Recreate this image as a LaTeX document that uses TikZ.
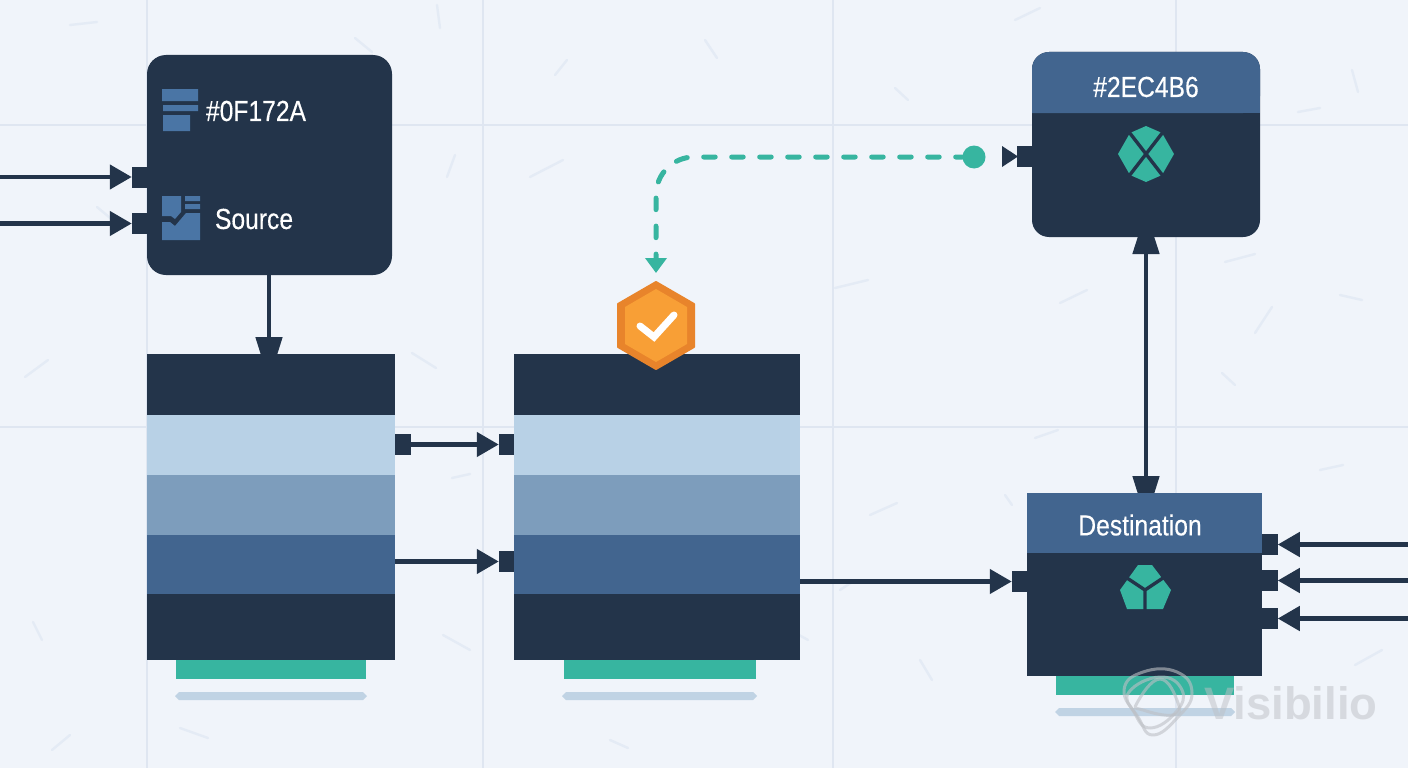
\documentclass[tikz,border=0pt]{standalone}
\usepackage{fontspec}
\setmainfont{Liberation Sans}
\newfontfamily\labelfont[FakeStretch=0.85,FakeBold=0.25]{Liberation Sans}
\newfontfamily\markfont{Liberation Sans Bold}
\usetikzlibrary{arrows.meta,calc}
\definecolor{bgc}{HTML}{F0F4FA}
\definecolor{gridc}{HTML}{DFE6F1}
\definecolor{speck}{HTML}{E4EBF5}
\definecolor{ink}{HTML}{23344A}
\definecolor{steel}{HTML}{42658F}
\definecolor{midb}{HTML}{7D9DBC}
\definecolor{pale}{HTML}{B8D1E6}
\definecolor{teal}{HTML}{37B5A0}
\definecolor{barc}{HTML}{C0D3E4}
\definecolor{icon}{HTML}{4A75A5}
\definecolor{orangeo}{HTML}{E8842B}
\definecolor{orangei}{HTML}{F89F36}
\definecolor{wm}{HTML}{BDC0C5}
\tikzset{
  x=1pt,y=-1pt,
  every node/.style={inner sep=0pt,outer sep=0pt},
  stripe/.style={rectangle,fill=#1},
  portbox/.style={rectangle,fill=ink,minimum width=15.5pt,minimum height=21pt},
  wire/.style={draw=ink,line width=4.6pt,-{Triangle[length=22pt,width=24pt]}},
  wireshort/.style={draw=ink,line width=4.8pt,shorten >=-27pt,-{Triangle[length=44pt,width=26pt]}},
  wireboth/.style={draw=ink,line width=4.8pt,shorten >=-27pt,shorten <=-26pt,{Triangle[length=43pt,width=26pt]}-{Triangle[length=44pt,width=26pt]}},
  tealwire/.style={draw=teal,line width=5pt,dash pattern=on 11.5pt off 16.5pt,dash phase=4.7pt,line cap=round,rounded corners=38pt,-{Triangle[length=15pt,width=21pt]}},
  gridline/.style={draw=gridc,line width=2pt},
  fleck/.style={draw=speck,line width=2.4pt,line cap=round},
  tagtext/.style={text=white,font=\labelfont\fontsize{29}{30}\selectfont},
  wmline/.style={draw=wm,line width=3pt,opacity=.6,line join=round}
}
\begin{document}
\begin{tikzpicture}
\useasboundingbox (0,0) rectangle (1408,768);
\fill[bgc] (0,0) rectangle (1408,768);
% grid
\foreach \g in {147,483,833,1176} \draw[gridline] (\g,0) -- (\g,768);
\foreach \g in {125,427} \draw[gridline] (0,\g) -- (1408,\g);
% flecks
\foreach \a/\b/\c/\d in {530/177/563/160,355/38/372/52,412/353/436/368,25/377/48/360,447/177/455/155,555/75/567/60,705/40/717/58,835/288/868/280,1060/303/1087/290,1255/333/1272/307,1225/262/1255/254,1015/20/1040/8,1340/295/1362/300,1352/70/1358/92,1192/115/1205/100,895/88/908/100,870/515/897/503,1035/438/1058/430,1320/470/1343/465,1355/665/1382/650,920/660/932/680,443/635/470/650,33/622/42/640,52/750/70/735,180/728/208/738,610/740/628/748,790/630/808/640,840/590/855/580,437/5/440/28,70/25/97/22,1298/112/1320/108,97/207/115/222,1222/373/1235/385,452/478/470/474,1005/495/1012/505}
  \draw[fleck] (\a,\b) -- (\c,\d);

% source box
\node[rectangle,fill=ink,rounded corners=19pt,minimum width=245pt,minimum height=220pt] (src) at (269.5,165) {};
\fill[icon] (162,89) rectangle (198,101) (163,105) rectangle (198,111) (163,115) rectangle (190,131);
\node[tagtext,anchor=west] (srctag) at (206,111) {\#0F172A};
\fill[icon] (162,196) -- (181,196) -- (181,212) -- (175,219) -- (171,216) -- (162,216) -- cycle;
\fill[icon] (162,222) -- (170,222) -- (175,226) -- (186,213) -- (200,213) -- (200,240) -- (162,240) -- cycle;
\fill[icon] (185,196) rectangle (200,201) (185,204) rectangle (200,209);
\node[tagtext,anchor=west] (srcname) at (215,219) {Source};
\node[portbox] (sp1) at (139.5,177) {};
\node[portbox] (sp2) at (139.5,223.5) {};
\coordinate (in1) at (0,177);
\coordinate (in2) at (0,223.5);

% left stack
\node[stripe=ink,minimum width=248pt,minimum height=61pt] (a1) at (271,384.5) {};
\node[stripe=pale,minimum width=248pt,minimum height=60pt] (a2) at (271,445) {};
\node[stripe=midb,minimum width=248pt,minimum height=60pt] (a3) at (271,505) {};
\node[stripe=steel,minimum width=248pt,minimum height=59pt] (a4) at (271,564.5) {};
\node[stripe=ink,minimum width=248pt,minimum height=66pt] (a5) at (271,627) {};
\node[stripe=teal,minimum width=190pt,minimum height=19pt] (a6) at (271,669.5) {};
\fill[barc] (175,696) -- (179,692) -- (363,692) -- (367,696) -- (363,700) -- (179,700) -- cycle;

% middle stack
\node[stripe=ink,minimum width=286pt,minimum height=61pt] (b1) at (657,384.5) {};
\node[stripe=pale,minimum width=286pt,minimum height=60pt] (b2) at (657,445) {};
\node[stripe=midb,minimum width=286pt,minimum height=60pt] (b3) at (657,505) {};
\node[stripe=steel,minimum width=286pt,minimum height=59pt] (b4) at (657,564.5) {};
\node[stripe=ink,minimum width=286pt,minimum height=66pt] (b5) at (657,627) {};
\node[stripe=teal,minimum width=192pt,minimum height=19pt] (b6) at (660,669.5) {};
\fill[barc] (562,696) -- (566,692) -- (753,692) -- (757,696) -- (753,700) -- (566,700) -- cycle;

% ports between stacks
\node[portbox] (ap1) at (403,444.5) {};
\node[portbox] (bp1) at (506.5,444.5) {};
\node[portbox] (bp2) at (506.5,561.5) {};

% top-right box
\node[rectangle,fill=ink,rounded corners=17pt,minimum width=228pt,minimum height=185pt] (tr) at (1146,144.5) {};
\node[portbox] (tp) at (1024.5,156.5) {};
\fill[ink] (1002,146) -- (1018,156.5) -- (1002,167) -- cycle;
\node[circle,fill=teal,minimum size=23pt] (dot) at (974,157) {};

% destination box, with the two-headed connector under its header
\node[rectangle,fill=ink,minimum width=235pt,minimum height=183pt] (dst) at (1144.5,584.5) {};
\path[wireboth] (tr.south) -- (tr.south |- dst.north);
\fill[steel,rounded corners=17pt] (1032,113) -- (1032,52) -- (1260,52) -- (1260,113) [sharp corners] -- cycle;
\fill[steel] (1032,90) rectangle (1260,113);
\node[tagtext] (trtag) at (1146,87) {\#2EC4B6};
\fill[teal] (1146,126) -- (1162,133) -- (1174,154) -- (1162,175) -- (1146,182) -- (1130,175) -- (1118,154) -- (1130,133) -- cycle;
\draw[ink,line width=3.4pt] (1129,132) -- (1163,176) (1163,132) -- (1129,176);
\node[stripe=steel,minimum width=235pt,minimum height=60pt] (dsth) at (1144.5,523) {};
\node[tagtext] (dstname) at (1140,525) {Destination};
\fill[teal] (1138,565) -- (1152,565) -- (1171,590) -- (1163,609) -- (1127,609) -- (1120,590) -- cycle;
\draw[ink,line width=3.4pt] (1145,590) -- (1145,610) (1145,590) -- (1127,578) (1145,590) -- (1163,578);
\node[stripe=teal,minimum width=178pt,minimum height=19pt] (dt) at (1145,685.5) {};
\fill[barc] (1055,712) -- (1059,708) -- (1231,708) -- (1235,712) -- (1231,716) -- (1059,716) -- cycle;
\node[portbox] (dl) at (1019.5,581.5) {};
\node[portbox] (dr1) at (1270,544.5) {};
\node[portbox] (dr2) at (1270,580.5) {};
\node[portbox] (dr3) at (1270,618.5) {};
\coordinate (out1) at (1408,544.5);
\coordinate (out2) at (1408,580.5);
\coordinate (out3) at (1408,618.5);

% badge
\fill[orangeo,draw=orangeo,line width=2pt,line join=round] (656,282) -- (694,304) -- (694,347) -- (656,369) -- (618,347) -- (618,304) -- cycle;
\fill[orangei] (656,289) -- (687,307) -- (687,344) -- (656,362) -- (625,344) -- (625,307) -- cycle;
\draw[white,line width=7pt,line cap=round] (640,326) -- (654,337) -- (674,315);
\coordinate (badgetop) at (656,273);
\coordinate (bend) at (656,157);
\coordinate (srcx) at (269,0);

% connectors
\path[wire] (in1) -- (sp1.west);
\path[wire] (in2) -- (sp2.west);
\path[wireshort] (srcx |- src.south) -- (srcx |- a1.north);
\path[wire] (ap1.east) -- (bp1.west);
\path[wire] (bp2.west -| a4.east) -- (bp2.west);
\path[wire] (dl.west -| b5.east) -- (dl.west);
\path[wire] (out1) -- (dr1.east);
\path[wire] (out2) -- (dr2.east);
\path[wire] (out3) -- (dr3.east);
\path[tealwire] (dot) -- (bend) -- (badgetop);

% watermark
\draw[wmline] plot[smooth cycle,tension=.8] coordinates {(1124,690) (1143,672) (1177,672) (1192,693) (1178,717) (1153,735) (1138,717)};
\draw[wmline] plot[smooth cycle,tension=.8] coordinates {(1129,692) (1160,677) (1182,690) (1176,712) (1150,728) (1134,712)};
\draw[wmline] plot[smooth cycle,tension=.8] coordinates {(1137,703) (1160,679) (1178,703) (1173,715) (1143,710)};
\node[anchor=base west,text=wm,font=\markfont\fontsize{45.5}{46}\selectfont,opacity=.5] (wmark) at (1204,719) {Visibilio};
\end{tikzpicture}
\end{document}
